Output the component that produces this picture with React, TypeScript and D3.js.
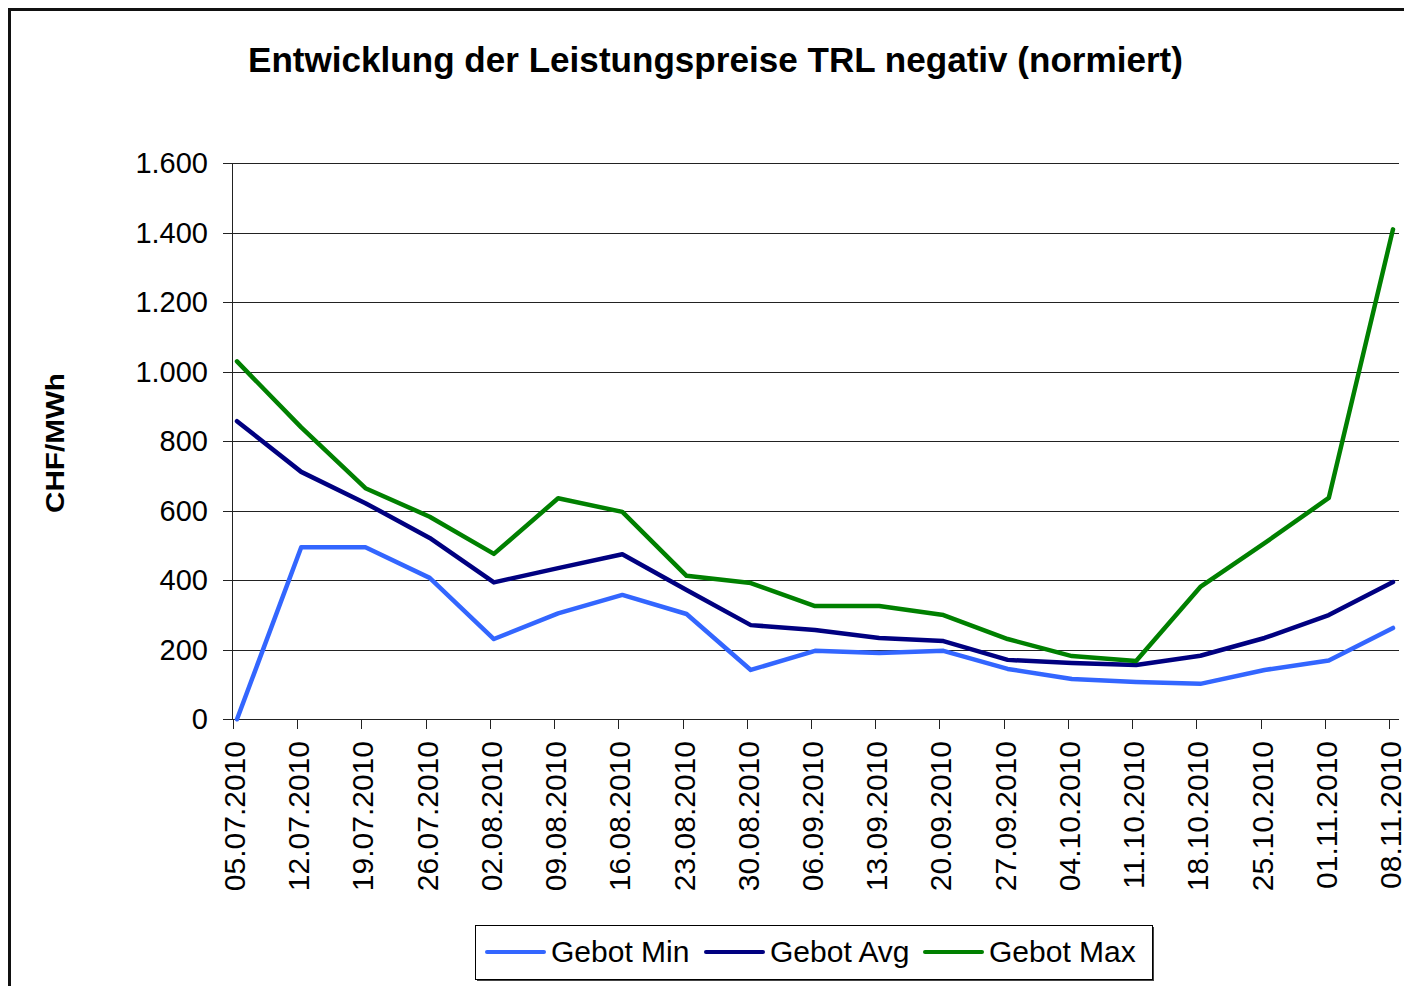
import React from "react";
import * as d3 from "d3";

const dates = [
  "05.07.2010", "12.07.2010", "19.07.2010", "26.07.2010", "02.08.2010", "09.08.2010",
  "16.08.2010", "23.08.2010", "30.08.2010", "06.09.2010", "13.09.2010", "20.09.2010",
  "27.09.2010", "04.10.2010", "11.10.2010", "18.10.2010", "25.10.2010", "01.11.2010", "08.11.2010",
];
const gebotMin = [0, 495, 495, 407, 231, 305, 358, 303, 142, 197, 191, 197, 145, 116, 107, 102, 142, 169, 263];
const gebotAvg = [858, 712, 622, 522, 394, 435, 475, 372, 271, 257, 234, 225, 171, 162, 156, 183, 234, 300, 395];
const gebotMax = [1030, 840, 665, 583, 476, 636, 597, 413, 392, 326, 326, 300, 231, 182, 168, 381, 507, 637, 1410];
const yTicks = [0, 200, 400, 600, 800, 1000, 1200, 1400, 1600];
const seriesNames = ["Gebot Min", "Gebot Avg", "Gebot Max"];
const seriesColors = ["#3366FF", "#000080", "#008000"];

const fmt = (v: number) => d3.format(",")(v).replace(/,/g, ".");

export default function App() {
  const x = d3.scalePoint<string>().domain(dates).range([237, 1393]);
  const y = d3.scaleLinear().domain([0, 1600]).range([719.3, 163.3]);
  const line = d3
    .line<number>()
    .x((_, i) => x(dates[i]) as number)
    .y((d) => y(d));
  const series = [gebotMin, gebotAvg, gebotMax];
  const font = "'Liberation Sans', Arial, sans-serif";
  const legendX = [487, 706, 925];

  return (
    <svg
      width={1404}
      height={986}
      style={{ position: "absolute", left: 0, top: 0, background: "#fff" }}
      fontFamily={font}
    >
      <rect x={0} y={0} width={1404} height={986} fill="#fff" />
      <path d="M9.5,990 L9.5,9.5 L1410,9.5" fill="none" stroke="#111" strokeWidth={3} />
      <text
        x={248}
        y={72}
        fontSize={35}
        fontWeight="bold"
        fill="#000"
        textLength={935}
        lengthAdjust="spacingAndGlyphs"
      >
        Entwicklung der Leistungspreise TRL negativ (normiert)
      </text>
      {/* gridlines */}
      {yTicks.map((t) => (
        <g key={t}>
          <line x1={223} x2={1399} y1={Math.round(y(t)) + 0.5} y2={Math.round(y(t)) + 0.5} stroke="#222" strokeWidth={1} />
          <text x={208} y={y(t)} textAnchor="end" dominantBaseline="central" fontSize={29} fill="#000">
            {fmt(t)}
          </text>
        </g>
      ))}
      {/* y axis */}
      <line x1={232.5} x2={232.5} y1={163} y2={720} stroke="#222" strokeWidth={1} />
      {/* x ticks and labels */}
      {dates.map((d) => {
        const xp = Math.round((x(d) as number) - 4) + 0.5;
        return (
          <g key={d}>
            <line x1={xp} x2={xp} y1={719} y2={729} stroke="#222" strokeWidth={1} />
            <text
              transform={`translate(${xp + 1},741) rotate(-90)`}
              textAnchor="end"
              dominantBaseline="central"
              fontSize={30}
              fill="#000"
            >
              {d}
            </text>
          </g>
        );
      })}
      <text
        transform="translate(64,513) rotate(-90)"
        fontSize={25}
        fontWeight="bold"
        fill="#000"
        textLength={140}
        lengthAdjust="spacingAndGlyphs"
      >
        CHF/MWh
      </text>
      {/* lines */}
      {series.map((s, i) => (
        <path
          key={i}
          d={line(s) || ""}
          fill="none"
          stroke={seriesColors[i]}
          strokeWidth={4.5}
          strokeLinejoin="round"
          strokeLinecap="round"
        />
      ))}
      {/* legend */}
      <rect x={477} y={927} width={677} height={54} fill="#444" />
      <rect x={475.5} y={925.5} width={677} height={54} fill="#fff" stroke="#000" strokeWidth={1} />
      {seriesNames.map((n, i) => (
        <g key={n}>
          <line x1={legendX[i]} x2={legendX[i] + 57} y1={952} y2={952} stroke={seriesColors[i]} strokeWidth={4} strokeLinecap="round" />
          <text x={legendX[i] + 64} y={951} dominantBaseline="central" fontSize={30} fill="#000">
            {n}
          </text>
        </g>
      ))}
    </svg>
  );
}
